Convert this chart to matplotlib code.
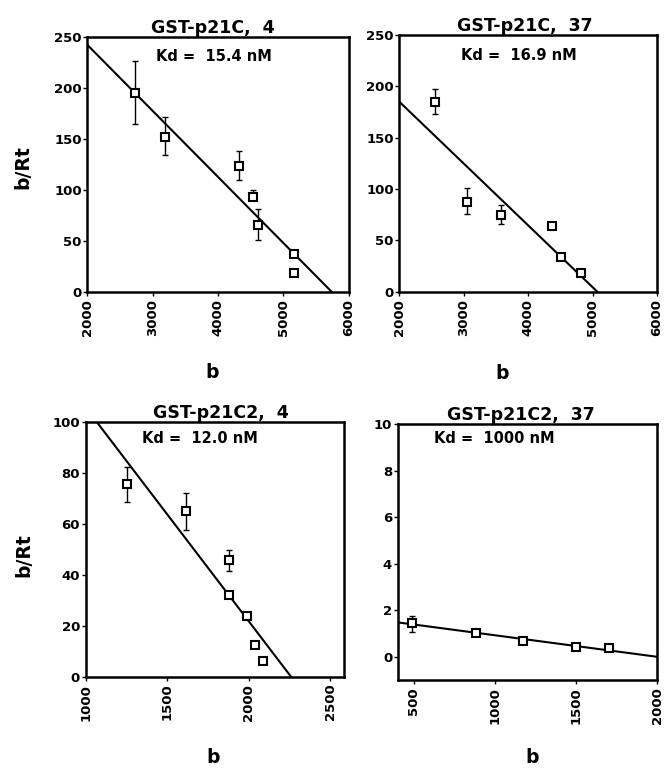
import matplotlib
matplotlib.use("Agg")
import matplotlib.pyplot as plt

# --- data ---
# GST-p21C, 4
b1 = [2729, 3188, 4320, 4538, 4615, 5161, 5161]
r1 = [195, 152, 123.5, 93, 65, 37, 18]
lo1 = [31, 18, 14, 0, 14, 0, 0]
hi1 = [31, 19, 14, 7, 16, 0, 0]
fit1_x = [2000, 5737]
fit1_y = [242, 0]

# GST-p21C, 37
b2 = [2551, 3054, 3571, 4376, 4514, 4820]
r2 = [185, 87.6, 74.7, 64, 33.5, 18.5]
lo2 = [12, 12, 9, 0, 0, 0]
hi2 = [12, 13, 10, 0, 0, 0]
fit2_x = [2000, 5073]
fit2_y = [185, 0]

# GST-p21C2, 4
b3 = [1255, 1615, 1881, 1881, 1988, 2039, 2090]
r3 = [75.4, 65, 45.8, 32, 24, 12.4, 6.2]
lo3 = [7, 7.5, 4.5, 0, 0, 0, 0]
hi3 = [7, 7, 4, 0, 0, 0, 0]
fit3_x = [1067, 2260]
fit3_y = [100, 0]

# GST-p21C2, 37
b4 = [486, 880, 1172, 1500, 1702]
r4 = [1.44, 1.03, 0.68, 0.43, 0.36]
lo4 = [0.36, 0, 0, 0, 0]
hi4 = [0.33, 0, 0, 0, 0]
fit4_x = [400, 2000]
fit4_y = [1.48, 0]

titles = ["GST-p21C,  4", "GST-p21C,  37", "GST-p21C2,  4", "GST-p21C2,  37"]
kd_text = ["Kd =  15.4 nM", "Kd =  16.9 nM", "Kd =  12.0 nM", "Kd =  1000 nM"]

plt.rcParams['font.family'] = ['DejaVu Sans']
plt.rcParams['font.weight'] = 'bold'

fig = plt.figure(figsize=(6.64, 7.69), dpi=100)

# axes positions [left, bottom, width, height] in figure fraction
pos = [[0.1315, 0.6207, 0.3937, 0.3316],
       [0.6014, 0.6207, 0.3880, 0.3338],
       [0.1290, 0.1200, 0.3886, 0.3316],
       [0.5990, 0.1157, 0.3905, 0.3325]]
xlims = [(2000, 6000), (2000, 6000), (1000, 2583), (400, 2000)]
ylims = [(0, 250), (0, 250), (0, 100), (-1, 10)]
xticks = [[2000, 3000, 4000, 5000, 6000], [2000, 3000, 4000, 5000, 6000],
          [1000, 1500, 2000, 2500], [500, 1000, 1500, 2000]]
yticks = [[0, 50, 100, 150, 200, 250], [0, 50, 100, 150, 200, 250],
          [0, 20, 40, 60, 80, 100], [0, 2, 4, 6, 8, 10]]
title_x = [0.48, 0.488, 0.524, 0.474]
kd_pos = [(0.483, 0.924), (0.464, 0.922), (0.443, 0.936), (0.371, 0.946)]
xlab_pos = [(0.477, -0.28), (0.40, -0.28), (0.493, -0.28), (0.518, -0.266)]
ylab_pos = [(-0.21, 0.487), None, (-0.204, 0.477), None]

data = [(b1, r1, lo1, hi1, fit1_x, fit1_y),
        (b2, r2, lo2, hi2, fit2_x, fit2_y),
        (b3, r3, lo3, hi3, fit3_x, fit3_y),
        (b4, r4, lo4, hi4, fit4_x, fit4_y)]

for i, (bx, ry, lo, hi, fx, fy) in enumerate(data):
    ax = fig.add_axes(pos[i])
    ax.plot(fx, fy, color='black', lw=1.5, zorder=2)
    ax.errorbar(bx, ry, yerr=[lo, hi], fmt='none', ecolor='black',
                elinewidth=1.0, capsize=2.5, capthick=1.0, zorder=3)
    ax.plot(bx, ry, 's', ms=5.5, mfc='white', mec='black', mew=1.5, zorder=4)
    ax.set_xlim(*xlims[i])
    ax.set_ylim(*ylims[i])
    ax.set_xticks(xticks[i])
    ax.set_yticks(yticks[i])
    ax.tick_params(axis='x', labelrotation=90, labelsize=9.5, length=3,
                   width=1, direction='out', pad=2)
    ax.tick_params(axis='y', labelsize=9.5, length=3, width=1,
                   direction='out', pad=1)
    for s in ax.spines.values():
        s.set_linewidth(1.8)
    ax.set_title(titles[i], x=title_x[i], fontsize=12.5, fontweight='bold', pad=2)
    ax.text(kd_pos[i][0], kd_pos[i][1], kd_text[i], transform=ax.transAxes,
            ha='center', va='center', fontsize=10.5, fontweight='bold')
    ax.set_xlabel('b', fontsize=13.5, fontweight='bold')
    ax.xaxis.set_label_coords(*xlab_pos[i])
    if ylab_pos[i] is not None:
        ax.set_ylabel('b/Rt', fontsize=13.5, fontweight='bold')
        ax.yaxis.set_label_coords(*ylab_pos[i])

fig.savefig('out.png', dpi=100)
